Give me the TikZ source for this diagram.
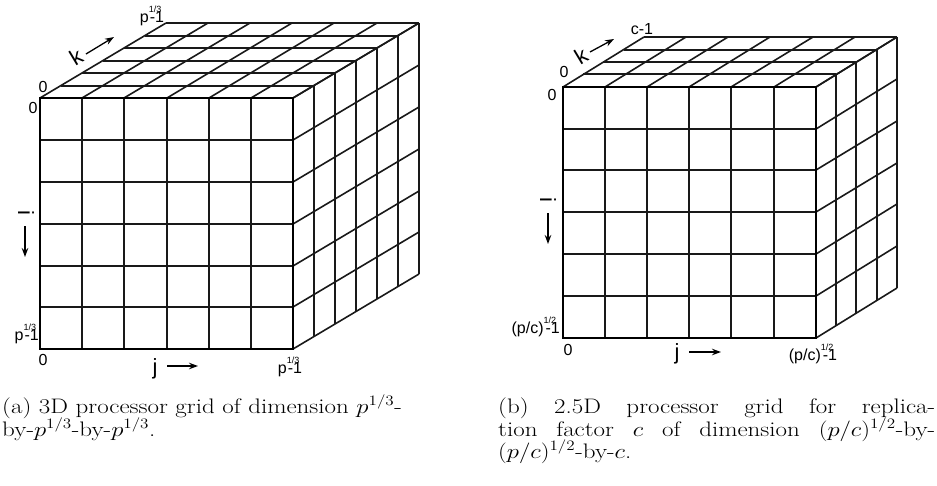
\documentclass[tikz,border=0pt]{standalone}
\usepackage{fontspec}
\newfontfamily\labfont{Liberation Sans}
\usetikzlibrary{arrows.meta}
\newcommand{\supl}[1]{\rlap{\raisebox{1.2ex}{\fontsize{9}{9}\selectfont #1}}}
% #1 x0, #2 y0, #3 depth cells, #4 dx, #5 dy
\newcommand{\drawcube}[5]{%
  \def\cw{42.17}\def\ch{41.83}%
  \foreach \i in {0,...,6}{%
    \draw[gridline] ({round(#1+\i*\cw)},{round(#2)}) -- ({round(#1+\i*\cw)},{round(#2+6*\ch)});
    \draw[gridline] ({round(#1)},{round(#2+\i*\ch)}) -- ({round(#1+6*\cw)},{round(#2+\i*\ch)});
    \draw[gridline] ({round(#1+\i*\cw)},{round(#2)}) -- ({round(#1+\i*\cw+#3*#4)},{round(#2+#3*#5)});
    \draw[gridline] ({round(#1+6*\cw)},{round(#2+\i*\ch)}) -- ({round(#1+6*\cw+#3*#4)},{round(#2+\i*\ch+#3*#5)});
  }
  \foreach \k in {0,...,#3}{%
    \draw[gridline] ({round(#1+\k*#4)},{round(#2+\k*#5)}) -- ({round(#1+6*\cw+\k*#4)},{round(#2+\k*#5)});
    \draw[gridline] ({round(#1+6*\cw+\k*#4)},{round(#2+\k*#5)}) -- ({round(#1+6*\cw+\k*#4)},{round(#2+6*\ch+\k*#5)});
  }
  \draw[frontline] ({round(#1)},{round(#2)}) rectangle ({round(#1+6*\cw)},{round(#2+6*\ch)});
}
\begin{document}
\begin{tikzpicture}[x=1pt,y=-1pt,
  gridline/.style={line width=1.6pt,black!90},
  frontline/.style={line width=2.4pt,black},
  lab/.style={font=\labfont\fontsize{16}{16}\selectfont,inner sep=0pt},
  axlab/.style={font=\labfont\fontsize{22}{22}\selectfont,inner sep=0pt},
  axarrow/.style={line width=1.3pt,-{Stealth[length=9pt,width=6.5pt]}},
  captext/.style={font=\fontsize{21}{21}\selectfont,inner sep=0pt,anchor=base west,xscale=1.19}]
\useasboundingbox (0,0) rectangle (937,485);
\fill[white] (0,0) rectangle (937,485);

% ---------- cube (a) ----------
\drawcube{40}{98.3}{6}{20.95}{-12.5}
\node[lab] (atop) at (152,16) {p\supl{1/3}\kern1pt-1};
\node[axlab,rotate=31] (ak) at (76,57) {k};
\coordinate (aks) at (86,54); \coordinate (ake) at (114,37);
\draw[axarrow] (aks) -- (ake);
\node[lab] (ak0) at (43,87) {0};
\node[lab] (ai0) at (33,108) {0};
\node[axlab,rotate=-90] (ai) at (26,213) {i};
\coordinate (ais) at (25,226); \coordinate (aie) at (25,257);
\draw[axarrow] (ais) -- (aie);
\node[lab,anchor=east] (ail) at (39,334) {p\supl{1/3}\kern1pt-1};
\node[lab] (aj0) at (43,360) {0};
\node[axlab] (aj) at (155,369) {j};
\coordinate (ajs) at (167,366); \coordinate (aje) at (198,366);
\draw[axarrow] (ajs) -- (aje);
\node[lab] (ajl) at (290,367) {p\supl{1/3}\kern1pt-1};

% ---------- cube (b) ----------
\drawcube{562.7}{86.7}{4}{20.3}{-12.4}
\node[lab] (btop) at (642,29) {c-1};
\node[axlab,rotate=31] (bk) at (581,56) {k};
\coordinate (bks) at (590,52); \coordinate (bke) at (614,39);
\draw[axarrow] (bks) -- (bke);
\node[lab] (bk0) at (564,72) {0};
\node[lab] (bi0) at (552,95) {0};
\node[axlab,rotate=-90] (bi) at (548,200) {i};
\coordinate (bis) at (548,213); \coordinate (bie) at (548,244);
\draw[axarrow] (bis) -- (bie);
\node[lab,anchor=east] (bil) at (560,327) {(p/c)\supl{1/2}\kern2pt-1};
\node[lab] (bj0) at (568,350) {0};
\node[axlab] (bj) at (677,354) {j};
\coordinate (bjs) at (689,352); \coordinate (bje) at (721,352);
\draw[axarrow] (bjs) -- (bje);
\node[lab] (bjl) at (813,354) {(p/c)\supl{1/2}\kern2pt-1};

% ---------- captions ----------
\node[captext] (capa1) at (2,413) {(a) 3D processor grid of dimension $p^{1/3}$-};
\node[captext] (capa2) at (2,436) {by-$p^{1/3}$-by-$p^{1/3}$.};
\node[captext] (capb1) at (498,413) {\hbox to 367.2pt{(b) 2.5D processor grid for replica-}};
\node[captext] (capb2) at (498,436) {\hbox to 367.2pt{tion factor $c$ of dimension $(p/c)^{1/2}$-by-}};
\node[captext] (capb3) at (498,458) {$(p/c)^{1/2}$-by-$c$.};
\end{tikzpicture}
\end{document}
